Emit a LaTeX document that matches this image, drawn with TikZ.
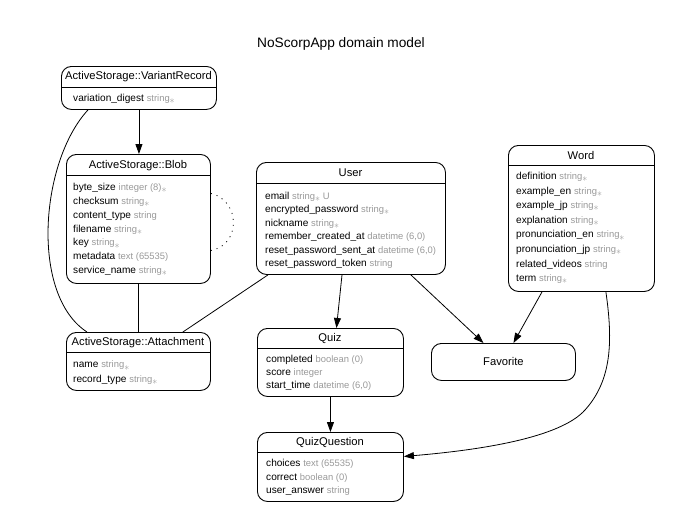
\documentclass[tikz,border=0pt]{standalone}
\usepackage{fontspec}
\setmainfont{Liberation Sans}
\usetikzlibrary{arrows.meta}
\definecolor{typegray}{HTML}{999999}
\newcommand{\ty}[1]{{\color{typegray}\fontsize{9.4}{10}\selectfont #1}}
\newcommand{\req}{{\color{typegray}\raisebox{-2.2pt}{\fontsize{10}{10}\selectfont$\ast$}}}
\begin{document}
\begin{tikzpicture}[x=1pt,y=-1pt,
    entity/.style={draw,rounded corners=10pt,line width=0.9pt,inner sep=0pt,anchor=north west},
    head/.style={font=\fontsize{11.2}{12}\selectfont,inner sep=0pt},
    attr/.style={font=\fontsize{10.1}{12}\selectfont,anchor=base west,inner sep=0pt},
    sep/.style={line width=0.9pt},
    rel/.style={line width=0.8pt},
    has/.style={rel,-{Triangle[length=10pt,width=7pt]}}]
    \useasboundingbox(0,0)rectangle(682,530);
    \node[font=\fontsize{13.7}{15}\selectfont](title)at(341,44){NoScorpApp domain model};
    % boxes
    \node[entity,minimum width=155pt,minimum height=43pt](variant)at(61,66){};
    \node[entity,minimum width=144pt,minimum height=129pt](blob)at(66,154){};
    \node[entity,minimum width=189pt,minimum height=112pt](user)at(256,162){};
    \node[entity,minimum width=146pt,minimum height=146pt](word)at(508,145){};
    \node[entity,minimum width=144pt,minimum height=58pt](att)at(66,332){};
    \node[entity,minimum width=146pt,minimum height=68pt](quiz)at(257,328){};
    \node[entity,minimum width=146pt,minimum height=69pt](qq)at(257,432){};
    \node[entity,minimum width=144pt,minimum height=37pt,font=\fontsize{11.2}{12}\selectfont](fav)at(431,343){Favorite};
    % headers
    \node[head](variant-h)at(138.5,77){ActiveStorage::VariantRecord};
    \draw[sep](variant.west|-0,87)--(variant.east|-0,87);
    \node[head](blob-h)at(138,166){ActiveStorage::Blob};
    \draw[sep](blob.west|-0,175)--(blob.east|-0,175);
    \node[head](user-h)at(350.5,173){User};
    \draw[sep](user.west|-0,183)--(user.east|-0,183);
    \node[head](word-h)at(581,155){Word};
    \draw[sep](word.west|-0,165)--(word.east|-0,165);
    \node[head](att-h)at(138,343){ActiveStorage::Attachment};
    \draw[sep](att.west|-0,352)--(att.east|-0,352);
    \node[head](quiz-h)at(330,338){Quiz};
    \draw[sep](quiz.west|-0,348)--(quiz.east|-0,348);
    \node[head](qq-h)at(330,442){QuizQuestion};
    \draw[sep](qq.west|-0,452)--(qq.east|-0,452);
    % attributes
    \node[attr](variant-0)at(73,101.5){variation\_digest \ty{string}\req};
    \foreach \t[count=\i from 0] in {byte\_size \ty{integer (8)}\req, checksum \ty{string}\req,
        content\_type \ty{string}, filename \ty{string}\req, key \ty{string}\req,
        metadata \ty{text (65535)}, service\_name \ty{string}\req}
        \node[attr](blob-\i)at(73,{190.5+13.85*\i}){\t};
    \foreach \t[count=\i from 0] in {email \ty{string}\req\ \ty{U}, encrypted\_password \ty{string}\req,
        nickname \ty{string}\req, remember\_created\_at \ty{datetime (6,0)},
        reset\_password\_sent\_at \ty{datetime (6,0)}, reset\_password\_token \ty{string}}
        \node[attr](user-\i)at(265,{199.2+13.5*\i}){\t};
    \foreach \t[count=\i from 0] in {definition \ty{string}\req, example\_en \ty{string}\req,
        example\_jp \ty{string}\req, explanation \ty{string}\req, pronunciation\_en \ty{string}\req,
        pronunciation\_jp \ty{string}\req, related\_videos \ty{string}, term \ty{string}\req}
        \node[attr](word-\i)at(516,{179.5+14.6*\i}){\t};
    \foreach \t[count=\i from 0] in {name \ty{string}\req, record\_type \ty{string}\req}
        \node[attr](att-\i)at(73,{367.8+14.7*\i}){\t};
    \foreach \t[count=\i from 0] in {completed \ty{boolean (0)}, score \ty{integer}, start\_time \ty{datetime (6,0)}}
        \node[attr](quiz-\i)at(266,{362.5+13*\i}){\t};
    \foreach \t[count=\i from 0] in {choices \ty{text (65535)}, correct \ty{boolean (0)}, user\_answer \ty{string}}
        \node[attr](qq-\i)at(266,{466.8+13.35*\i}){\t};
    % relations
    \draw[has](variant.south|-variant.south)--(variant.south|-blob.north);
    \draw[rel]([xshift=27pt]variant.south west)..controls+(-48,52)and+(-57,-37)..([xshift=21pt]att.north west);
    \draw[rel](blob.south)--(att.north);
    \draw[rel,dash pattern=on 1pt off 5pt]([yshift=25.5pt]blob.east)..controls+(30,7)and+(30,-5)..([yshift=-31.5pt]blob.east);
    \draw[rel]([xshift=12pt]user.south west)--([xshift=-28pt]att.north east);
    \draw[has]([xshift=86pt]user.south west)--([xshift=6pt]quiz.north);
    \draw[has]([xshift=-35pt]user.south east)--([xshift=-20pt]fav.north);
    \draw[has]([xshift=34pt]word.south west)--([xshift=10pt]fav.north);
    \draw[has](quiz.south)--(qq.north);
    \draw[has]([xshift=-49pt]word.south east)..controls+(7,49)and(612,380)..(585,410)
        ..controls(560,438)and(480,450)..([yshift=10.5pt]qq.east);
\end{tikzpicture}
\end{document}
